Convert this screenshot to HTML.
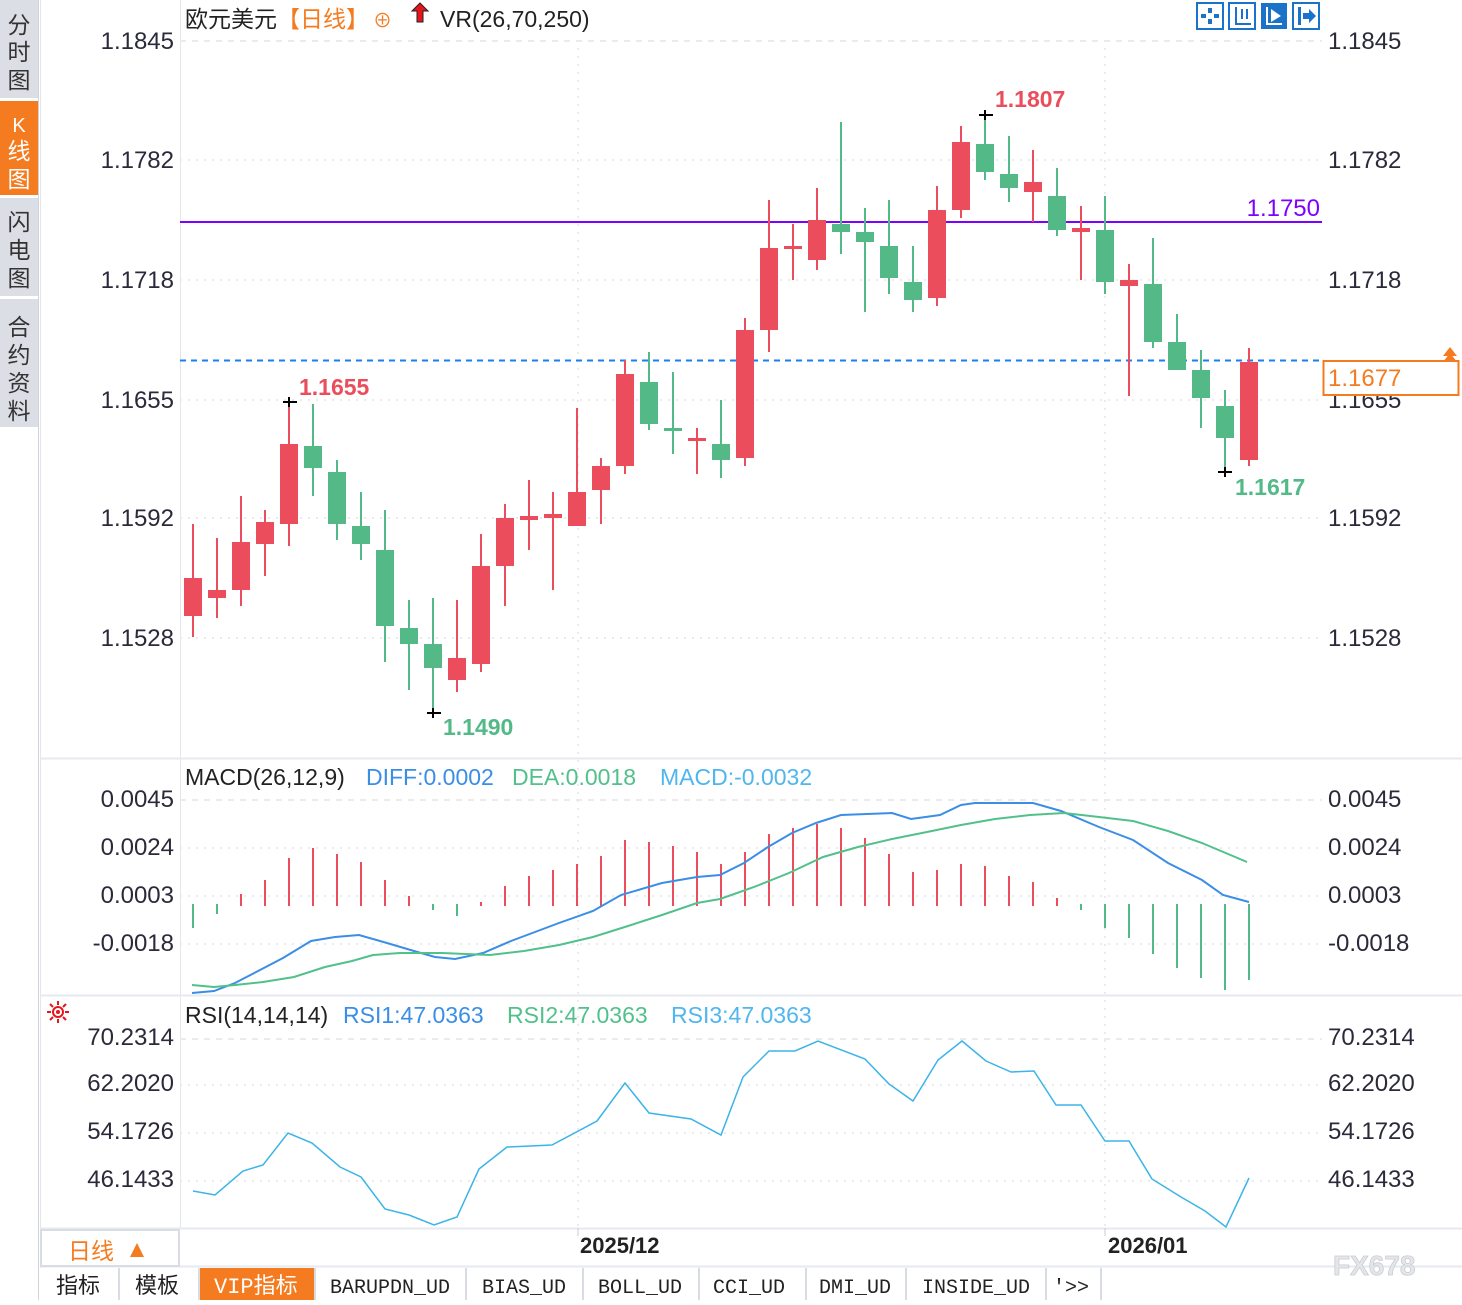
<!DOCTYPE html>
<html><head><meta charset="utf-8"><style>
body{margin:0;width:1462px;height:1300px;overflow:hidden;background:#fff;font-family:"Liberation Sans","Noto Sans CJK SC",sans-serif;}
svg text{font-family:"Liberation Sans","Noto Sans CJK SC",sans-serif;}
.m{font-family:"Liberation Mono","Noto Sans CJK SC",monospace !important;}
</style></head><body>
<svg width="1462" height="1300" viewBox="0 0 1462 1300" xmlns="http://www.w3.org/2000/svg">
<rect x="0" y="0" width="38" height="1300" fill="#fff"/>
<rect x="0" y="0" width="38" height="98" fill="#dcdee5"/>
<rect x="0" y="101" width="38" height="94" fill="#f47b20"/>
<rect x="0" y="198" width="38" height="98" fill="#dcdee5"/>
<rect x="0" y="299" width="38" height="128" fill="#dcdee5"/>
<line x1="38.5" y1="0" x2="38.5" y2="1300" stroke="#cfd3da"/>
<g font-size="23" fill="#333" text-anchor="middle">
<text x="19" y="33">分</text><text x="19" y="60">时</text><text x="19" y="88">图</text>
<text x="19" y="132" fill="#fff" font-size="20">K</text><text x="19" y="159" fill="#fff">线</text><text x="19" y="187" fill="#fff">图</text>
<text x="19" y="230">闪</text><text x="19" y="258">电</text><text x="19" y="286">图</text>
<text x="19" y="335">合</text><text x="19" y="363">约</text><text x="19" y="391">资</text><text x="19" y="419">料</text>
</g>
<line x1="40.5" y1="0" x2="40.5" y2="1300" stroke="#e3e7ec"/>
<line x1="180.5" y1="0" x2="180.5" y2="1228" stroke="#e3e7ec"/>
<line x1="40" y1="758.5" x2="1462" y2="758.5" stroke="#e6eaef" stroke-width="2"/>
<line x1="40" y1="995.5" x2="1462" y2="995.5" stroke="#e6eaef" stroke-width="2"/>
<line x1="40" y1="1228.5" x2="1462" y2="1228.5" stroke="#e6eaef" stroke-width="2"/>
<line x1="40" y1="1266.5" x2="1462" y2="1266.5" stroke="#e6eaef" stroke-width="2"/>
<g stroke="#ebebeb" stroke-width="2" stroke-dasharray="2,6">
<line x1="180" y1="41" x2="1322" y2="41" stroke-dasharray="6,6"/>
<line x1="180" y1="160" x2="1322" y2="160"/><line x1="180" y1="280" x2="1322" y2="280"/>
<line x1="180" y1="400" x2="1322" y2="400"/><line x1="180" y1="518" x2="1322" y2="518"/><line x1="180" y1="638" x2="1322" y2="638"/>
<line x1="180" y1="800" x2="1322" y2="800" stroke-dasharray="6,6"/><line x1="180" y1="848" x2="1322" y2="848"/><line x1="180" y1="896" x2="1322" y2="896"/><line x1="180" y1="944" x2="1322" y2="944"/>
<line x1="180" y1="1039" x2="1322" y2="1039" stroke-dasharray="6,6"/><line x1="180" y1="1085" x2="1322" y2="1085"/><line x1="180" y1="1133" x2="1322" y2="1133"/><line x1="180" y1="1181" x2="1322" y2="1181"/>
<line x1="578" y1="40" x2="578" y2="1228"/><line x1="1105" y1="40" x2="1105" y2="1228"/>
</g>
<g font-size="24" fill="#2a2a3a">
<g text-anchor="end">
<text x="174" y="49">1.1845</text><text x="174" y="168">1.1782</text><text x="174" y="288">1.1718</text><text x="174" y="408">1.1655</text><text x="174" y="526">1.1592</text><text x="174" y="646">1.1528</text>
<text x="174" y="807">0.0045</text><text x="174" y="855">0.0024</text><text x="174" y="903">0.0003</text><text x="174" y="951">-0.0018</text>
<text x="174" y="1045">70.2314</text><text x="174" y="1091">62.2020</text><text x="174" y="1139">54.1726</text><text x="174" y="1187">46.1433</text>
</g>
<text x="1328" y="49">1.1845</text><text x="1328" y="168">1.1782</text><text x="1328" y="288">1.1718</text><text x="1328" y="408">1.1655</text><text x="1328" y="526">1.1592</text><text x="1328" y="646">1.1528</text>
<text x="1328" y="807">0.0045</text><text x="1328" y="855">0.0024</text><text x="1328" y="903">0.0003</text><text x="1328" y="951">-0.0018</text>
<text x="1328" y="1045">70.2314</text><text x="1328" y="1091">62.2020</text><text x="1328" y="1139">54.1726</text><text x="1328" y="1187">46.1433</text>
</g>
<text x="185" y="27" font-size="23" fill="#222">欧元美元<tspan fill="#f47b20">【日线】</tspan><tspan fill="#f47b20" font-size="19" dx="4">⊕</tspan></text>
<path d="M420 3 L428 11 L423 11 L423 22 L417 22 L417 11 L412 11 Z" fill="#e8141c" stroke="#222" stroke-width="1"/>
<text x="440" y="27" font-size="23" fill="#222">VR(26,70,250)</text>
<g stroke="#1a73c8" stroke-width="2" fill="none">
<rect x="1197" y="3" width="26" height="26"/><rect x="1229" y="3" width="26" height="26"/><rect x="1293" y="3" width="26" height="26"/>
</g>
<rect x="1261" y="3" width="26" height="26" fill="#1a73c8"/>
<g fill="#1a73c8"><rect x="1208" y="8" width="4" height="5"/><rect x="1208" y="19" width="4" height="5"/><rect x="1201" y="14" width="5" height="4"/><rect x="1214" y="14" width="5" height="4"/>
<rect x="1235" y="7" width="2" height="18"/><rect x="1235" y="23" width="16" height="2"/><rect x="1241" y="9" width="2" height="10"/><rect x="1246" y="9" width="2" height="10"/>
<rect x="1298" y="7" width="3" height="18"/><path d="M1303 13 L1309 13 L1309 9 L1316 16 L1309 23 L1309 19 L1303 19Z"/></g>
<g fill="#fff"><rect x="1266" y="7" width="2" height="18"/><rect x="1266" y="23" width="16" height="2"/><path d="M1271 9 L1281 16 L1271 22Z"/></g>
<line x1="180" y1="222" x2="1322" y2="222" stroke="#8000ff" stroke-width="2"/>
<text x="1320" y="216" font-size="24" fill="#8000ff" text-anchor="end">1.1750</text>
<line x1="180" y1="360.5" x2="1322" y2="360.5" stroke="#1a7ff0" stroke-width="2" stroke-dasharray="6,5"/>
<rect x="1323.5" y="361" width="135" height="34" fill="#fff" stroke="#f47b20" stroke-width="2"/>
<text x="1328" y="386" font-size="24" fill="#f47b20">1.1677</text>
<path d="M1443 356 L1450 347 L1457 356Z M1443 362 L1450 353 L1457 362Z" fill="#f47b20"/>
<g fill="#eb4d5c">
<rect x="192" y="524" width="2" height="113"/><rect x="184" y="578" width="18" height="38"/>
<rect x="216" y="538" width="2" height="80"/><rect x="208" y="590" width="18" height="8"/>
<rect x="240" y="496" width="2" height="110"/><rect x="232" y="542" width="18" height="48"/>
<rect x="264" y="510" width="2" height="66"/><rect x="256" y="522" width="18" height="22"/>
<rect x="288" y="403" width="2" height="143"/><rect x="280" y="444" width="18" height="80"/>
<rect x="456" y="600" width="2" height="92"/><rect x="448" y="658" width="18" height="22"/>
<rect x="480" y="534" width="2" height="138"/><rect x="472" y="566" width="18" height="98"/>
<rect x="504" y="504" width="2" height="102"/><rect x="496" y="518" width="18" height="48"/>
<rect x="528" y="480" width="2" height="70"/><rect x="520" y="516" width="18" height="4"/>
<rect x="552" y="492" width="2" height="98"/><rect x="544" y="514" width="18" height="4"/>
<rect x="576" y="408" width="2" height="118"/><rect x="568" y="492" width="18" height="34"/>
<rect x="600" y="458" width="2" height="66"/><rect x="592" y="466" width="18" height="24"/>
<rect x="624" y="360" width="2" height="114"/><rect x="616" y="374" width="18" height="92"/>
<rect x="696" y="428" width="2" height="46"/><rect x="688" y="438" width="18" height="3"/>
<rect x="744" y="318" width="2" height="148"/><rect x="736" y="330" width="18" height="128"/>
<rect x="768" y="200" width="2" height="152"/><rect x="760" y="248" width="18" height="82"/>
<rect x="792" y="224" width="2" height="56"/><rect x="784" y="246" width="18" height="3"/>
<rect x="816" y="188" width="2" height="82"/><rect x="808" y="220" width="18" height="40"/>
<rect x="936" y="186" width="2" height="120"/><rect x="928" y="210" width="18" height="88"/>
<rect x="960" y="126" width="2" height="92"/><rect x="952" y="142" width="18" height="68"/>
<rect x="1032" y="150" width="2" height="72"/><rect x="1024" y="182" width="18" height="10"/>
<rect x="1080" y="206" width="2" height="74"/><rect x="1072" y="228" width="18" height="4"/>
<rect x="1128" y="264" width="2" height="132"/><rect x="1120" y="280" width="18" height="6"/>
<rect x="1248" y="348" width="2" height="118"/><rect x="1240" y="362" width="18" height="98"/>
</g>
<g fill="#52b987">
<rect x="312" y="404" width="2" height="92"/><rect x="304" y="446" width="18" height="22"/>
<rect x="336" y="460" width="2" height="80"/><rect x="328" y="472" width="18" height="52"/>
<rect x="360" y="492" width="2" height="68"/><rect x="352" y="526" width="18" height="18"/>
<rect x="384" y="510" width="2" height="152"/><rect x="376" y="550" width="18" height="76"/>
<rect x="408" y="600" width="2" height="90"/><rect x="400" y="628" width="18" height="16"/>
<rect x="432" y="598" width="2" height="115"/><rect x="424" y="644" width="18" height="24"/>
<rect x="648" y="352" width="2" height="78"/><rect x="640" y="382" width="18" height="42"/>
<rect x="672" y="372" width="2" height="82"/><rect x="664" y="428" width="18" height="3"/>
<rect x="720" y="400" width="2" height="78"/><rect x="712" y="444" width="18" height="16"/>
<rect x="840" y="122" width="2" height="132"/><rect x="832" y="224" width="18" height="8"/>
<rect x="864" y="208" width="2" height="104"/><rect x="856" y="232" width="18" height="10"/>
<rect x="888" y="200" width="2" height="94"/><rect x="880" y="246" width="18" height="32"/>
<rect x="912" y="246" width="2" height="66"/><rect x="904" y="282" width="18" height="18"/>
<rect x="984" y="115" width="2" height="65"/><rect x="976" y="144" width="18" height="28"/>
<rect x="1008" y="136" width="2" height="66"/><rect x="1000" y="174" width="18" height="14"/>
<rect x="1056" y="168" width="2" height="68"/><rect x="1048" y="196" width="18" height="34"/>
<rect x="1104" y="196" width="2" height="98"/><rect x="1096" y="230" width="18" height="52"/>
<rect x="1152" y="238" width="2" height="110"/><rect x="1144" y="284" width="18" height="58"/>
<rect x="1176" y="314" width="2" height="56"/><rect x="1168" y="342" width="18" height="28"/>
<rect x="1200" y="350" width="2" height="78"/><rect x="1192" y="370" width="18" height="28"/>
<rect x="1224" y="390" width="2" height="82"/><rect x="1216" y="406" width="18" height="32"/>
</g>
<g stroke="#000" stroke-width="2">
<line x1="283" y1="402" x2="297" y2="402"/><line x1="289" y1="397" x2="289" y2="407"/>
<line x1="427" y1="713" x2="441" y2="713"/><line x1="433" y1="708" x2="433" y2="718"/>
<line x1="979" y1="115" x2="993" y2="115"/><line x1="985" y1="110" x2="985" y2="120"/>
<line x1="1218" y1="472" x2="1232" y2="472"/><line x1="1225" y1="467" x2="1225" y2="477"/>
</g>
<g font-size="23" font-weight="bold">
<text x="299" y="395" fill="#eb4d5c">1.1655</text>
<text x="443" y="735" fill="#52b987">1.1490</text>
<text x="995" y="107" fill="#eb4d5c">1.1807</text>
<text x="1235" y="495" fill="#52b987">1.1617</text>
</g>
<text x="185" y="785" font-size="23" fill="#222">MACD(26,12,9)</text>
<text x="366" y="785" font-size="23" fill="#3a8ee6">DIFF:0.0002</text>
<text x="512" y="785" font-size="23" fill="#52c08a">DEA:0.0018</text>
<text x="660" y="785" font-size="23" fill="#4fb6ee">MACD:-0.0032</text>
<g stroke="#eb4d5c" stroke-width="2">
<line x1="241" y1="906" x2="241" y2="894"/><line x1="265" y1="906" x2="265" y2="880"/><line x1="289" y1="906" x2="289" y2="858"/><line x1="313" y1="906" x2="313" y2="848"/><line x1="337" y1="906" x2="337" y2="854"/><line x1="361" y1="906" x2="361" y2="862"/><line x1="385" y1="906" x2="385" y2="880"/><line x1="409" y1="906" x2="409" y2="896"/>
<line x1="481" y1="906" x2="481" y2="902"/><line x1="505" y1="906" x2="505" y2="886"/><line x1="529" y1="906" x2="529" y2="876"/><line x1="553" y1="906" x2="553" y2="870"/><line x1="577" y1="906" x2="577" y2="864"/><line x1="601" y1="906" x2="601" y2="856"/><line x1="625" y1="906" x2="625" y2="840"/><line x1="649" y1="906" x2="649" y2="842"/><line x1="673" y1="906" x2="673" y2="846"/><line x1="697" y1="906" x2="697" y2="852"/><line x1="721" y1="906" x2="721" y2="864"/><line x1="745" y1="906" x2="745" y2="852"/><line x1="769" y1="906" x2="769" y2="834"/><line x1="793" y1="906" x2="793" y2="828"/><line x1="817" y1="906" x2="817" y2="824"/><line x1="841" y1="906" x2="841" y2="828"/><line x1="865" y1="906" x2="865" y2="838"/><line x1="889" y1="906" x2="889" y2="854"/><line x1="913" y1="906" x2="913" y2="872"/><line x1="937" y1="906" x2="937" y2="870"/><line x1="961" y1="906" x2="961" y2="864"/><line x1="985" y1="906" x2="985" y2="866"/><line x1="1009" y1="906" x2="1009" y2="876"/><line x1="1033" y1="906" x2="1033" y2="882"/><line x1="1057" y1="906" x2="1057" y2="898"/>
</g>
<g stroke="#52b987" stroke-width="2">
<line x1="193" y1="904" x2="193" y2="928"/><line x1="217" y1="904" x2="217" y2="914"/><line x1="433" y1="904" x2="433" y2="910"/><line x1="457" y1="904" x2="457" y2="916"/>
<line x1="1081" y1="904" x2="1081" y2="910"/><line x1="1105" y1="904" x2="1105" y2="928"/><line x1="1129" y1="904" x2="1129" y2="938"/><line x1="1153" y1="904" x2="1153" y2="954"/><line x1="1177" y1="904" x2="1177" y2="968"/><line x1="1201" y1="904" x2="1201" y2="978"/><line x1="1225" y1="904" x2="1225" y2="990"/><line x1="1249" y1="904" x2="1249" y2="980"/>
</g>
<polyline fill="none" stroke="#3a8ee6" stroke-width="2" points="192,993 214,991 235,983 283,958 311,941 335,937 359,935 387,943 414,951 435,957 455,959 483,953 511,941 559,923 593,911 621,895 662,883 697,877 720,875 744,863 768,847 792,833 816,823 841,815 892,813 911,819 940,815 961,805 975,803 1033,803 1061,811 1099,827 1133,840 1168,863 1202,880 1223,895 1249,902"/>
<polyline fill="none" stroke="#52c08a" stroke-width="2" points="192,985 214,987 235,985 263,982 294,977 325,967 352,961 373,955 400,953 442,953 490,955 524,951 559,945 593,937 628,926 662,915 697,903 720,899 754,887 789,873 823,857 858,847 892,839 927,832 961,825 995,819 1030,815 1064,813 1099,817 1133,821 1168,831 1202,843 1247,862"/>
<g transform="translate(58,1012)" stroke="#e8141c" stroke-width="2" fill="none">
<circle r="5"/><line x1="-11" y1="0" x2="-7" y2="0"/><line x1="7" y1="0" x2="11" y2="0"/><line x1="0" y1="-11" x2="0" y2="-7"/><line x1="0" y1="7" x2="0" y2="11"/><line x1="-8" y1="-8" x2="-5" y2="-5"/><line x1="5" y1="5" x2="8" y2="8"/><line x1="-8" y1="8" x2="-5" y2="5"/><line x1="5" y1="-5" x2="8" y2="-8"/>
</g>
<circle cx="58" cy="1012" r="2" fill="#e8141c"/>
<text x="185" y="1023" font-size="23" fill="#222">RSI(14,14,14)</text>
<text x="343" y="1023" font-size="23" fill="#3a8ee6">RSI1:47.0363</text>
<text x="507" y="1023" font-size="23" fill="#52c08a">RSI2:47.0363</text>
<text x="671" y="1023" font-size="23" fill="#4fb6ee">RSI3:47.0363</text>
<polyline fill="none" stroke="#3bb4e8" stroke-width="1.5" points="193,1191 215,1195 243,1171 263,1165 288,1133 312,1143 340,1167 361,1177 385,1209 409,1215 434,1225 457,1217 479,1169 507,1147 552,1145 597,1121 625,1083 649,1113 691,1119 721,1135 743,1077 769,1051 795,1051 818,1041 865,1059 889,1084 913,1101 938,1060 962,1041 986,1061 1011,1072 1034,1071 1056,1105 1081,1105 1105,1141 1129,1141 1152,1179 1181,1197 1205,1211 1226,1227 1249,1178"/>
<rect x="41" y="1230" width="138" height="36" fill="#fff" stroke="#d9dde3" stroke-width="2"/>
<text x="68" y="1259" font-size="23" fill="#f47b20">日线</text>
<path d="M130 1257 L137 1243 L144 1257Z" fill="#f47b20"/>
<line x1="578" y1="1228" x2="578" y2="1236" stroke="#ccc"/><line x1="1105" y1="1228" x2="1105" y2="1236" stroke="#ccc"/>
<text x="580" y="1253" font-size="22" font-weight="bold" fill="#222">2025/12</text>
<text x="1108" y="1253" font-size="22" font-weight="bold" fill="#222">2026/01</text>
<text x="1333" y="1275" font-size="28" font-weight="bold" fill="#e4e6ea" stroke="#c9ccd2" stroke-width="0.8">FX678</text>
<rect x="40" y="1268" width="1060" height="32" fill="#fff"/>
<rect x="200" y="1268" width="114" height="32" fill="#f47b20"/>
<g stroke="#d9dde3" stroke-width="2">
<line x1="119" y1="1268" x2="119" y2="1300"/><line x1="199" y1="1268" x2="199" y2="1300"/><line x1="315" y1="1268" x2="315" y2="1300"/><line x1="466" y1="1268" x2="466" y2="1300"/><line x1="583" y1="1268" x2="583" y2="1300"/><line x1="699" y1="1268" x2="699" y2="1300"/><line x1="806" y1="1268" x2="806" y2="1300"/><line x1="906" y1="1268" x2="906" y2="1300"/><line x1="1046" y1="1268" x2="1046" y2="1300"/><line x1="1101" y1="1268" x2="1101" y2="1300"/>
</g>
<g font-size="22" fill="#222">
<text class="m" x="56" y="1293">指标</text>
<text class="m" x="135" y="1293">模板</text>
<text class="m" x="214" y="1293" fill="#fff">VIP指标</text>
<text class="m" x="330" y="1293" font-size="20">BARUPDN_UD</text>
<text class="m" x="482" y="1293" font-size="20">BIAS_UD</text>
<text class="m" x="598" y="1293" font-size="20">BOLL_UD</text>
<text class="m" x="713" y="1293" font-size="20">CCI_UD</text>
<text class="m" x="819" y="1293" font-size="20">DMI_UD</text>
<text class="m" x="922" y="1293" font-size="20">INSIDE_UD</text>
<text class="m" x="1053" y="1293" font-size="20">'&gt;&gt;</text>
</g>
</svg>
</body></html>
